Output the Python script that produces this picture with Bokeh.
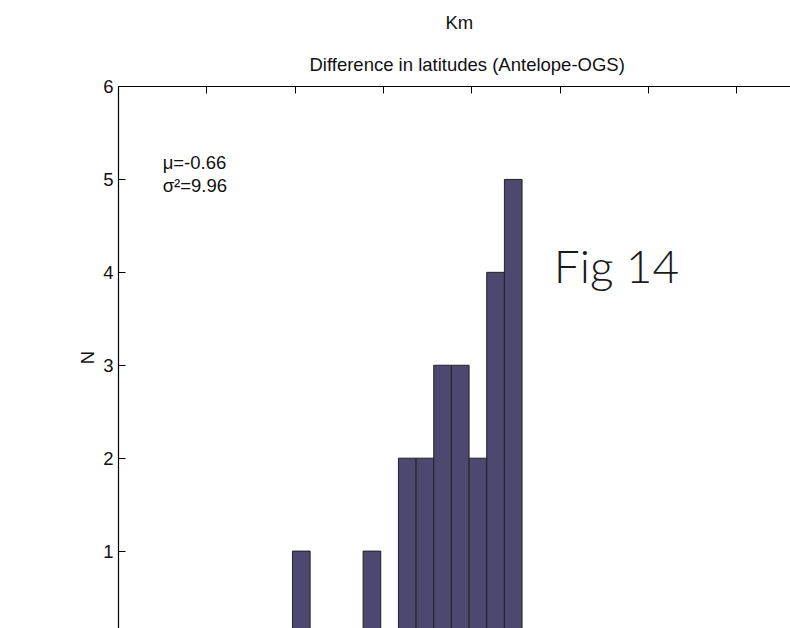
from bokeh.plotting import figure
from bokeh.models import FixedTicker, Label, Range1d, Title
from bokeh.embed import file_html
from bokeh.resources import INLINE

# Data
bin_centers = [-9.65, -5.65, -3.65, -2.65, -1.65, -0.65, 0.35, 1.35, 2.35]
counts = [1, 1, 2, 2, 3, 3, 2, 4, 5]
x_ticks = [-20, -15, -10, -5, 0, 5, 10, 15, 20]
y_ticks = [1, 2, 3, 4, 5, 6]
title_text = "Difference in latitudes (Antelope-OGS)"
top_text = "Km"
stats_mu = "\u03bc=-0.66"
stats_sigma = "\u03c3\u00b2=9.96"
fig_text = "Fig 14"

FONT = "Liberation Sans"
FS = "18.5px"

p = figure(width=790, height=628, output_backend="svg", toolbar_location=None,
           x_axis_location="above",
           x_range=Range1d(-20.0, 18.05), y_range=Range1d(0.167, 6),
           min_border_left=118, min_border_top=86, min_border_right=0, min_border_bottom=0)
p.outline_line_color = None
p.grid.visible = False
p.background_fill_color = "white"
p.border_fill_color = "white"

p.title.text = top_text
p.title.align = "left"
p.title.offset = 327
p.title.text_font = FONT
p.title.text_font_size = FS
p.title.text_font_style = "normal"
p.title.text_color = "#111111"
p.title.standoff = 16

main_title = Title(text=title_text, align="left", offset=191, text_font=FONT,
                   text_font_size=FS, text_font_style="normal", text_color="#111111",
                   standoff=23)
p.add_layout(main_title, "above")

p.quad(left=[c - 0.5 for c in bin_centers], right=[c + 0.5 for c in bin_centers],
       bottom=0, top=counts, fill_color="#4c4870", line_color="#222222", line_width=1)

xa = p.xaxis[0]
xa.ticker = FixedTicker(ticks=x_ticks)
xa.major_label_text_font_size = "0px"
xa.major_label_text_color = None
xa.major_label_standoff = 0
xa.major_tick_in = 7
xa.major_tick_out = 0
xa.minor_tick_in = 0
xa.minor_tick_out = 0
xa.axis_line_color = "black"
xa.axis_line_width = 1.2

ya = p.yaxis[0]
ya.ticker = FixedTicker(ticks=y_ticks)
ya.major_tick_in = 7
ya.major_tick_out = 0
ya.minor_tick_in = 0
ya.minor_tick_out = 0
ya.major_label_text_font = FONT
ya.major_label_text_font_size = FS
ya.major_label_text_color = "#111111"
ya.major_label_standoff = 5
ya.axis_label = "N"
ya.axis_label_text_font = FONT
ya.axis_label_text_font_size = FS
ya.axis_label_text_font_style = "normal"
ya.axis_label_text_color = "#111111"
ya.axis_label_standoff = 2
ya.axis_line_width = 1.2

p.add_layout(Label(x=-17.5, y=5.18, text=stats_mu, text_font=FONT, text_font_size=FS,
                   text_align="left", text_baseline="middle", text_color="#111111"))
p.add_layout(Label(x=-17.5, y=4.93, text=stats_sigma, text_font=FONT, text_font_size=FS,
                   text_align="left", text_baseline="middle", text_color="#111111"))
p.add_layout(Label(x=4.65, y=4.07, text=fig_text, text_font="Lato Light", text_font_size="46px",
                   text_align="left", text_baseline="middle", text_color="#1a1a1a"))

open("out.html", "w").write(file_html(p, INLINE))
